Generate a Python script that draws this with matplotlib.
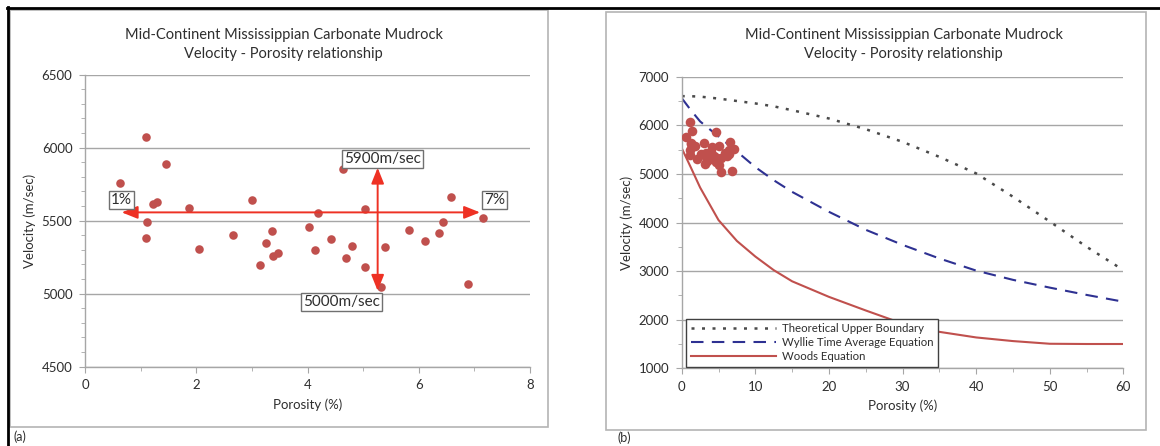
import matplotlib
matplotlib.use("Agg")
import matplotlib.pyplot as plt
from matplotlib.lines import Line2D
from matplotlib.patches import Rectangle
from matplotlib.ticker import MultipleLocator

plt.rcParams['font.family'] = ['Lato', 'DejaVu Sans']

# measured porosity (%) and P-wave velocity (m/sec) of the mudrock samples
porosity = [0.63, 1.10, 1.46, 1.23, 1.30, 1.12, 1.10, 1.87, 2.05, 2.66, 3.00, 3.14,
            3.26, 3.36, 3.38, 3.47, 4.03, 4.14, 4.18, 4.42, 4.63, 4.70, 4.79, 5.04,
            5.04, 5.32, 5.40, 5.83, 6.11, 6.37, 6.44, 6.57, 6.88, 7.15]
velocity = [5756, 6071, 5890, 5616, 5628, 5491, 5379, 5584, 5306, 5404, 5644, 5199,
            5349, 5429, 5260, 5281, 5459, 5301, 5550, 5372, 5854, 5244, 5329, 5580,
            5180, 5048, 5320, 5438, 5363, 5413, 5489, 5664, 5068, 5516]

# model curves
phi_model = [0, 1.25, 2.5, 5, 7.5, 10, 12.5, 15, 20, 25, 30, 35, 40, 45, 50, 55, 60]
upper_bound = [6600, 6598, 6590, 6550, 6500, 6450, 6390, 6310, 6140, 5920, 5660,
               5350, 5010, 4530, 4020, 3500, 3020]
wyllie = [6560, 6310, 6080, 5770, 5460, 5140, 4870, 4630, 4220, 3850, 3540, 3260,
          3010, 2820, 2660, 2510, 2370]
woods = [5530, 5130, 4720, 4050, 3620, 3300, 3020, 2790, 2470, 2190, 1920, 1750,
         1635, 1560, 1505, 1500, 1500]

# range markers on panel (a)
phi_range = [0.66, 7.10]
vel_range = [5020, 5863]
range_y = 5557
range_x = 5.26

W, H = 1160, 446
fig = plt.figure(figsize=(W / 100, H / 100), dpi=100)
fig.patch.set_facecolor('white')

def fx(px):
    return px / W

def fy(py):
    return 1 - py / H

txt = '#2e2e2e'
grid = '#a6a6a6'
red = '#c0504d'
arrow_red = '#ee3124'

# page border lines and the chart-area frames
fig.add_artist(Line2D([fx(7), fx(1160)], [fy(7.5), fy(7.5)], color='black', lw=2))
fig.add_artist(Line2D([fx(7.5), fx(7.5)], [fy(7), fy(446)], color='black', lw=2))
fig.add_artist(Rectangle((fx(9.5), fy(427)), fx(548 - 9.5), (427 - 9.5) / H,
                         fill=False, ec='#b4b4b4', lw=1.2))
fig.add_artist(Rectangle((fx(606), fy(429.5)), fx(1146 - 606), (429.5 - 12) / H,
                         fill=False, ec='#b4b4b4', lw=1.2))

def style_axes(ax):
    for s in ['top', 'right']:
        ax.spines[s].set_visible(False)
    for s in ['left', 'bottom']:
        ax.spines[s].set_color(grid)
        ax.spines[s].set_linewidth(1)
    ax.yaxis.grid(True, color=grid, lw=1)
    ax.set_axisbelow(True)
    ax.tick_params(which='both', direction='out', color=grid, labelcolor=txt,
                   labelsize=9.5)
    ax.tick_params(which='major', length=4)
    ax.tick_params(which='minor', length=3)
    ax.tick_params(axis='y', pad=5)
    ax.tick_params(axis='x', pad=5)

# ---- panel (a) ----
ax1 = fig.add_axes([fx(85), fy(366.7), fx(530.1 - 85), (366.7 - 74.7) / H])
style_axes(ax1)
ax1.set_xlim(0, 8)
ax1.set_ylim(4500, 6500)
ax1.xaxis.set_major_locator(MultipleLocator(2))
ax1.xaxis.set_minor_locator(MultipleLocator(1))
ax1.yaxis.set_major_locator(MultipleLocator(500))
ax1.yaxis.set_minor_locator(MultipleLocator(100))
ax1.scatter(porosity, velocity, s=38, color=red, zorder=3, linewidths=0)
ax1.set_xlabel('Porosity (%)', color=txt, fontsize=9.5, labelpad=5)
ax1.set_ylabel('Velocity (m/sec)', color=txt, fontsize=9.5, labelpad=4)

aprops = dict(arrowstyle='<|-|>,head_length=0.8,head_width=0.32', color=arrow_red,
              lw=1.4, mutation_scale=12, shrinkA=0, shrinkB=0)
ax1.annotate('', xy=(phi_range[0], range_y), xytext=(phi_range[1], range_y),
             arrowprops=aprops, zorder=4)
ax1.annotate('', xy=(range_x, vel_range[0]), xytext=(range_x, vel_range[1]),
             arrowprops=aprops, zorder=4)

bbox = dict(boxstyle='square,pad=0.12', fc='white', ec='#707070', lw=1)
ax1.text(phi_range[0], 5643, '1%', ha='center', va='center', fontsize=11,
         color=txt, bbox=bbox, zorder=5)
ax1.text(7.36, 5643, '7%', ha='center', va='center', fontsize=11,
         color=txt, bbox=bbox, zorder=5)
ax1.text(5.35, 5923, '5900m/sec', ha='center', va='center', fontsize=11,
         color=txt, bbox=bbox, zorder=5)
ax1.text(4.61, 4941, '5000m/sec', ha='center', va='center', fontsize=11,
         color=txt, bbox=bbox, zorder=5)

fig.text(fx(283.7), fy(35), 'Mid-Continent Mississippian Carbonate Mudrock',
         ha='center', va='center', fontsize=10.5, color=txt)
fig.text(fx(283.7), fy(54), 'Velocity - Porosity relationship',
         ha='center', va='center', fontsize=10.5, color=txt)
fig.text(fx(13), fy(437), '(a)', ha='left', va='center', fontsize=9, color=txt)

# ---- panel (b) ----
ax2 = fig.add_axes([fx(681.7), fy(368.3), fx(1123.4 - 681.7), (368.3 - 76.7) / H])
style_axes(ax2)
ax2.set_xlim(0, 60)
ax2.set_ylim(1000, 7000)
ax2.xaxis.set_major_locator(MultipleLocator(10))
ax2.xaxis.set_minor_locator(MultipleLocator(5))
ax2.yaxis.set_major_locator(MultipleLocator(1000))
ax2.yaxis.set_minor_locator(MultipleLocator(500))
ax2.plot(phi_model, upper_bound, color='#4a4a4a', lw=1.8, ls=(0, (1.2, 3.0)),
         dash_capstyle='butt', label='Theoretical Upper Boundary', zorder=2)
ax2.plot(phi_model, wyllie, color='#2e3192', lw=1.5, ls=(0, (6, 4)),
         label='Wyllie Time Average Equation', zorder=2)
ax2.plot(phi_model, woods, color=red, lw=1.5, label='Woods Equation', zorder=2)
ax2.scatter(porosity, velocity, s=48, color=red, zorder=3, linewidths=0)
ax2.set_xlabel('Porosity (%)', color=txt, fontsize=9.5, labelpad=5)
ax2.set_ylabel('Velocity (m/sec)', color=txt, fontsize=9.5, labelpad=4)
leg = ax2.legend(loc='lower left', bbox_to_anchor=(0.01, 0.006), fontsize=8.2,
                 frameon=True, fancybox=False, edgecolor='#404040', framealpha=1,
                 handlelength=7.5, borderpad=0.4, labelspacing=0.25,
                 handletextpad=0.5, borderaxespad=0)
leg.get_frame().set_linewidth(1)
for t in leg.get_texts():
    t.set_color(txt)

fig.text(fx(903.5), fy(35), 'Mid-Continent Mississippian Carbonate Mudrock',
         ha='center', va='center', fontsize=10.5, color=txt)
fig.text(fx(903.5), fy(54), 'Velocity - Porosity relationship',
         ha='center', va='center', fontsize=10.5, color=txt)
fig.text(fx(617), fy(438), '(b)', ha='left', va='center', fontsize=9, color=txt)

fig.savefig('out.png', dpi=100, facecolor='white')
